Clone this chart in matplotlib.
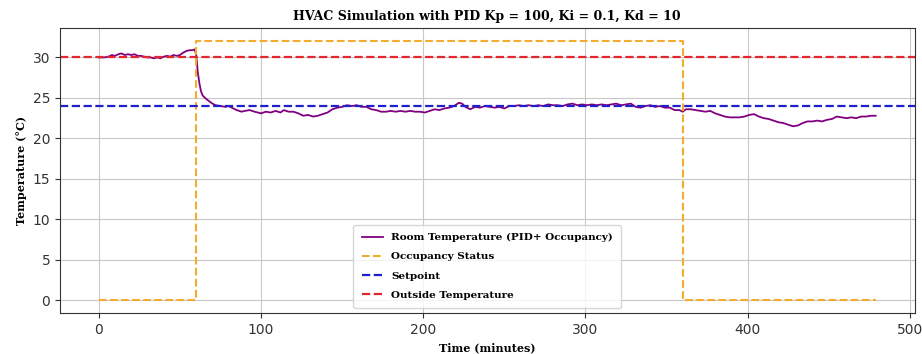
import matplotlib
matplotlib.use("Agg")
import matplotlib.pyplot as plt

room_time = [0, 3, 6, 8, 10, 12, 14, 16, 18, 20, 22, 24, 26, 28, 30, 32, 34, 36, 38, 40,
             42, 44, 46, 48, 50, 52, 54, 56, 58, 59, 60, 61, 62, 63, 64, 66, 68, 70, 72, 75,
             78, 80, 82, 85, 88, 90, 93, 96, 100, 103, 106, 109, 112, 114, 117, 120, 123, 126, 129, 132,
             135, 138, 141, 144, 147, 150, 153, 156, 159, 162, 165, 168, 171, 174, 177, 180, 183, 186, 189, 192,
             195, 198, 201, 204, 207, 210, 213, 216, 219, 222, 224, 226, 229, 232, 235, 238, 241, 244, 247, 250,
             253, 256, 259, 262, 265, 268, 271, 274, 277, 280, 283, 286, 289, 292, 295, 298, 301, 304, 307, 310,
             313, 316, 319, 322, 325, 328, 331, 334, 337, 340, 343, 346, 349, 352, 355, 358, 360, 362, 365, 368,
             371, 374, 377, 380, 383, 386, 389, 392, 395, 398, 401, 404, 407, 410, 413, 416, 419, 422, 425, 428,
             431, 434, 437, 440, 443, 446, 449, 452, 455, 458, 461, 464, 467, 470, 473, 476, 479]
room_temp = [30.0, 30.0, 30.1, 30.3, 30.2, 30.4, 30.5, 30.3, 30.4, 30.3, 30.4, 30.2, 30.2, 30.1, 30.0, 30.0, 29.9, 30.0, 29.9, 30.1,
             30.2, 30.1, 30.3, 30.2, 30.3, 30.6, 30.8, 30.9, 30.9, 31.0, 30.4, 28.2, 26.8, 25.8, 25.3, 24.9, 24.6, 24.3, 24.1, 24.0,
             23.9, 24.0, 23.8, 23.5, 23.3, 23.4, 23.5, 23.3, 23.1, 23.3, 23.2, 23.4, 23.2, 23.5, 23.3, 23.3, 23.1, 22.8, 22.9, 22.7,
             22.8, 23.0, 23.2, 23.6, 23.8, 23.9, 24.1, 24.0, 24.1, 23.9, 23.9, 23.6, 23.5, 23.3, 23.3, 23.4, 23.3, 23.4, 23.3, 23.4,
             23.3, 23.3, 23.2, 23.4, 23.6, 23.5, 23.7, 23.8, 24.0, 24.4, 24.3, 23.9, 23.6, 23.9, 23.8, 24.0, 23.9, 23.8, 23.9, 23.7,
             24.0, 24.0, 24.1, 24.0, 24.1, 24.0, 24.1, 24.0, 24.2, 24.1, 24.1, 24.0, 24.2, 24.3, 24.1, 24.2, 24.1, 24.2, 24.1, 24.2,
             24.1, 24.2, 24.3, 24.1, 24.2, 24.3, 23.9, 23.8, 24.0, 24.1, 23.9, 24.0, 23.8, 23.8, 23.5, 23.5, 23.3, 23.6, 23.6, 23.5,
             23.4, 23.3, 23.4, 23.1, 22.9, 22.7, 22.6, 22.6, 22.6, 22.7, 22.9, 23.0, 22.7, 22.5, 22.4, 22.2, 22.0, 21.9, 21.7, 21.5,
             21.6, 21.9, 22.1, 22.1, 22.2, 22.1, 22.3, 22.4, 22.7, 22.6, 22.5, 22.6, 22.5, 22.7, 22.7, 22.8, 22.8]

occ_time = [0, 60, 60, 360, 360, 479]
occ_status = [0, 0, 32, 32, 0, 0]
setpoint = 24
outside_temp = 30

title = "HVAC Simulation with PID Kp = 100, Ki = 0.1, Kd = 10"
xlabel = "Time (minutes)"
ylabel = "Temperature (°C)"
labels = ["Room Temperature (PID+ Occupancy)", "Occupancy Status", "Setpoint", "Outside Temperature"]

serif = ["DejaVu Serif"]

fig, ax = plt.subplots(figsize=(9.22, 3.54), dpi=100)
fig.subplots_adjust(left=0.065, right=0.992, top=0.92, bottom=0.115)

ax.plot(room_time, room_temp, color="purple", lw=1.3, label=labels[0])
ax.plot(occ_time, occ_status, color="#f2ad30", ls="--", lw=1.5, label=labels[1])
ax.axhline(setpoint, color="#1f1fcc", ls="--", lw=1.6, label=labels[2])
ax.axhline(outside_temp, color="#e0282e", ls="--", lw=1.6, label=labels[3])

ax.set_xlim(-24, 503)
ax.set_ylim(-1.6, 33.6)
ax.grid(True, color="#c8c8c8", lw=0.8)
for s in ax.spines.values():
    s.set_color("#333333")
ax.tick_params(labelsize=10, colors="#333333")
ax.set_title(title, fontsize=9, fontweight="bold", family=serif)
ax.set_xlabel(xlabel, fontsize=8, fontweight="bold", family=serif)
ax.set_ylabel(ylabel, fontsize=8, fontweight="bold", family=serif)
ax.legend(loc="lower center", prop={"family": serif, "weight": "bold", "size": 7.5},
          labelspacing=0.95, borderpad=0.8, handlelength=2.0)

fig.savefig("out.png", dpi=100)
